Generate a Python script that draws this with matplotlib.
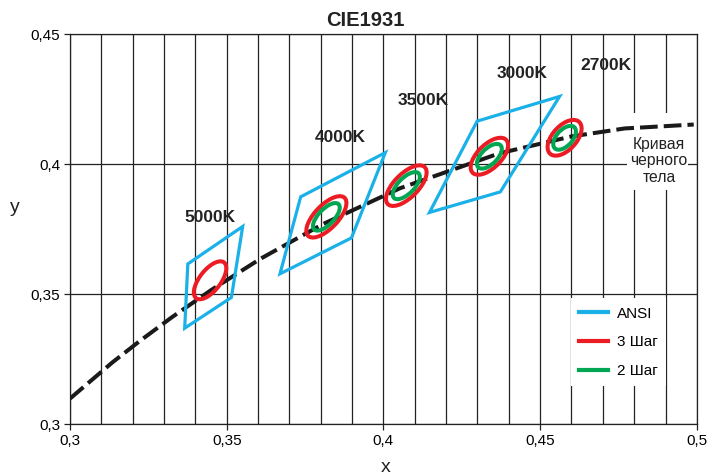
import numpy as np
import matplotlib.pyplot as plt
from matplotlib.patches import Ellipse, Polygon, Rectangle
from matplotlib.lines import Line2D
from matplotlib.ticker import FuncFormatter, MultipleLocator

plt.rcParams['font.family'] = ['Liberation Sans', 'DejaVu Sans']

# planckian locus
locus_x = [0.300, 0.3135, 0.3221, 0.3324, 0.3451, 0.3608, 0.3805, 0.4053, 0.4369, 0.4599, 0.4770, 0.4990]
locus_y = [0.3098, 0.3237, 0.3318, 0.3410, 0.3516, 0.3636, 0.3768, 0.3907, 0.4041, 0.4106, 0.4137, 0.4152]

# ANSI quadrangles: 5000K, 4000K, 3000K
quad_x = [[0.3551, 0.3376, 0.3366, 0.3515],
          [0.4006, 0.3736, 0.3670, 0.3898],
          [0.4562, 0.4299, 0.4147, 0.4373]]
quad_y = [[0.3760, 0.3616, 0.3369, 0.3487],
          [0.4044, 0.3874, 0.3578, 0.3716],
          [0.4260, 0.4165, 0.3814, 0.3893]]

# MacAdam ellipses (1 step) for 5000K, 4000K, 3500K, 3000K, 2700K
ell_cx = [0.3447, 0.3818, 0.4073, 0.4338, 0.4578]
ell_cy = [0.3553, 0.3797, 0.3917, 0.4030, 0.4101]
ell_a = [0.00274, 0.00313, 0.00309, 0.00278, 0.00258]
ell_b = [0.00118, 0.00134, 0.00138, 0.00136, 0.00137]
ell_theta = [59.37, 54.00, 52.97, 53.22, 57.28]
has_green = [False, True, True, True, True]

cct_labels = ['5000K', '4000K', '3500K', '3000K', '2700K']
label_x = [0.3447, 0.3862, 0.4127, 0.4441, 0.4710]
label_y = [0.3794, 0.4102, 0.4246, 0.4348, 0.4379]

blue = '#1ab0e8'
red = '#ec1c24'
green = '#00a651'
ink = '#222222'

fig = plt.figure(figsize=(7.14, 4.76), dpi=100)
ax = fig.add_axes([0.098, 0.109, 0.878, 0.8195])

ax.set_xlim(0.3, 0.5)
ax.set_ylim(0.3, 0.45)

ax.xaxis.set_major_locator(MultipleLocator(0.05))
ax.xaxis.set_minor_locator(MultipleLocator(0.01))
ax.yaxis.set_major_locator(MultipleLocator(0.05))
fmt = FuncFormatter(lambda v, p: ('%g' % round(v, 3)).replace('.', ','))
ax.xaxis.set_major_formatter(fmt)
ax.yaxis.set_major_formatter(fmt)
ax.grid(which='major', axis='both', color=ink, lw=0.9)
ax.grid(which='minor', axis='x', color=ink, lw=0.9)
ax.tick_params(which='major', direction='out', length=4, width=0.9, labelsize=11, color=ink, pad=3)
ax.tick_params(which='minor', length=0)
for s in ax.spines.values():
    s.set_color(ink)
    s.set_linewidth(0.9)
ax.set_axisbelow(True)

ax.plot(locus_x, locus_y, color='#1a1a1a', lw=2.9, dashes=(4.4, 1.5), zorder=3)

for qx, qy in zip(quad_x, quad_y):
    ax.add_patch(Polygon(list(zip(qx, qy)), closed=True, fill=False, ec=blue, lw=2.3, zorder=4))

for i in range(len(ell_cx)):
    ax.add_patch(Ellipse((ell_cx[i], ell_cy[i]), 2 * 3 * ell_a[i], 2 * 3 * ell_b[i], angle=ell_theta[i],
                         fill=False, ec=red, lw=2.9, zorder=5))
    if has_green[i]:
        ax.add_patch(Ellipse((ell_cx[i], ell_cy[i]), 2 * 2 * ell_a[i], 2 * 2 * ell_b[i], angle=ell_theta[i],
                             fill=False, ec=green, lw=2.9, zorder=5))

for t, lx, ly in zip(cct_labels, label_x, label_y):
    ax.text(lx, ly, t, ha='center', va='center', fontsize=12.5, fontweight='bold', color=ink, zorder=6)

# label of the locus sits on a white patch that hides the grid, the curve passes over it
ax.add_patch(Rectangle((0.4777, 0.3900), 0.0195, 0.0296, facecolor='white', edgecolor='none', zorder=1.5))
ax.text(0.4879, 0.4012, 'Кривая\nчерного\nтела', ha='center', va='center', fontsize=11.3,
        color=ink, linespacing=1.1, zorder=2)

handles = [Line2D([], [], color=blue, lw=3), Line2D([], [], color=red, lw=3), Line2D([], [], color=green, lw=3)]
leg = ax.legend(handles, ['ANSI', '3 Шаг', '2 Шаг'], loc='lower right', bbox_to_anchor=(0.9506, 0.097),
                borderaxespad=0, frameon=True, fancybox=False, edgecolor='none', framealpha=1, fontsize=11,
                handlelength=1.9, handletextpad=0.55, labelspacing=0.96, borderpad=0.55)
leg.set_zorder(7)

fig.text(365 / 714, 1 - 20 / 476, 'CIE1931', ha='center', va='center', fontsize=14.5,
         fontweight='bold', color=ink)
fig.text(386 / 714, 1 - 467 / 476, 'x', ha='center', va='center', fontsize=14, color=ink)
fig.text(15 / 714, 1 - 207 / 476, 'y', ha='center', va='center', fontsize=14, color=ink)

fig.savefig('out.png', dpi=100)
